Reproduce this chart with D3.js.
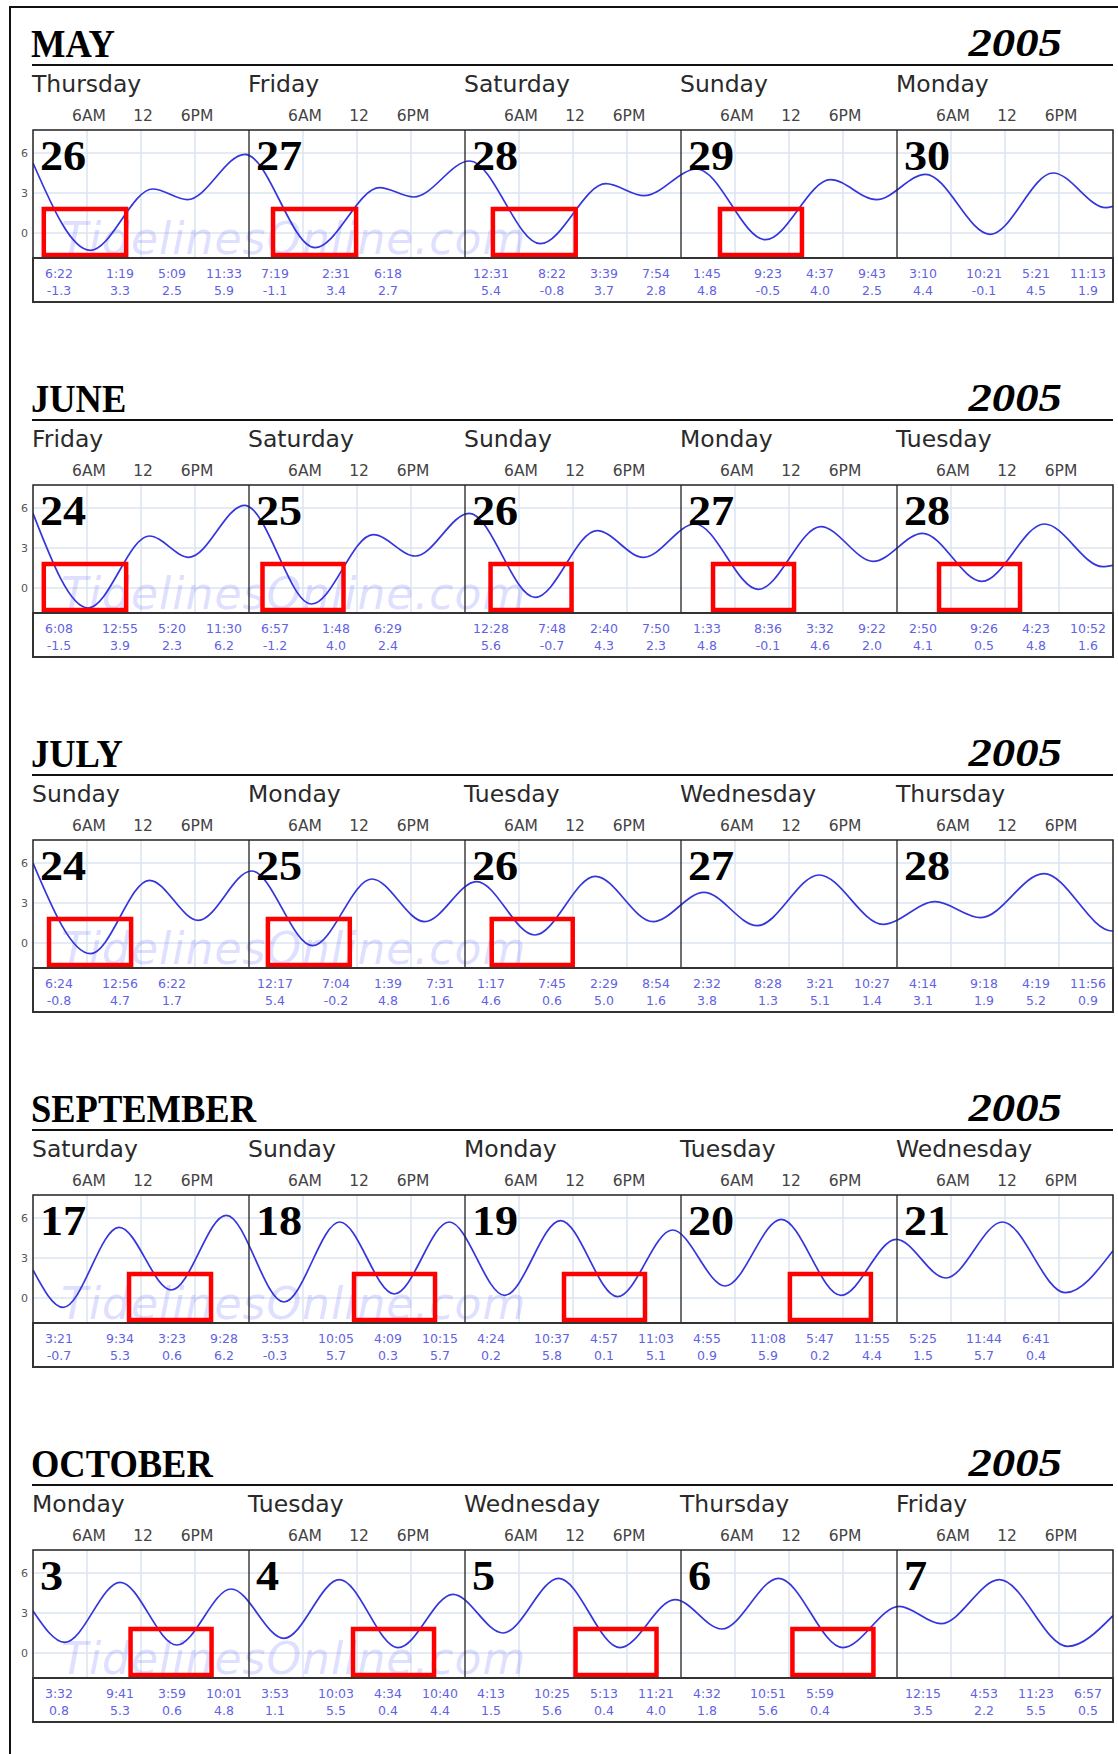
<!DOCTYPE html>
<html>
<head>
<meta charset="utf-8">
<script src="https://cdn.jsdelivr.net/npm/d3@7"></script>
<style>
  html, body { margin: 0; padding: 0; background: #fff; }
  svg { display: block; }
</style>
</head>
<body>
<svg id="chart" width="1118" height="1754"></svg>
<script>
// ---------------- DATA ----------------
const monthNames = ["MAY", "JUNE", "JULY", "SEPTEMBER", "OCTOBER"];
const yearLabels = ["2005", "2005", "2005", "2005", "2005"];
const weekdayNames = [
  ["Thursday", "Friday", "Saturday", "Sunday", "Monday"],
  ["Friday", "Saturday", "Sunday", "Monday", "Tuesday"],
  ["Sunday", "Monday", "Tuesday", "Wednesday", "Thursday"],
  ["Saturday", "Sunday", "Monday", "Tuesday", "Wednesday"],
  ["Monday", "Tuesday", "Wednesday", "Thursday", "Friday"]
];
const dayNumbers = [
  [26, 27, 28, 29, 30],
  [24, 25, 26, 27, 28],
  [24, 25, 26, 27, 28],
  [17, 18, 19, 20, 21],
  [3, 4, 5, 6, 7]
];
// hour-axis tick labels and y-axis ticks
const hourTickHours = [6, 12, 18];
const hourTickLabels = ["6AM", "12", "6PM"];
const heightTicks = [0, 3, 6];

// tide extremes (24h time, height in ft), one list per day
const tidesMay = [
  [["06:22", -1.3], ["13:19", 3.3], ["17:09", 2.5], ["23:33", 5.9]],
  [["07:19", -1.1], ["14:31", 3.4], ["18:18", 2.7]],
  [["00:31", 5.4], ["08:22", -0.8], ["15:39", 3.7], ["19:54", 2.8]],
  [["01:45", 4.8], ["09:23", -0.5], ["16:37", 4.0], ["21:43", 2.5]],
  [["03:10", 4.4], ["10:21", -0.1], ["17:21", 4.5], ["23:13", 1.9]]
];
const tidesJune = [
  [["06:08", -1.5], ["12:55", 3.9], ["17:20", 2.3], ["23:30", 6.2]],
  [["06:57", -1.2], ["13:48", 4.0], ["18:29", 2.4]],
  [["00:28", 5.6], ["07:48", -0.7], ["14:40", 4.3], ["19:50", 2.3]],
  [["01:33", 4.8], ["08:36", -0.1], ["15:32", 4.6], ["21:22", 2.0]],
  [["02:50", 4.1], ["09:26", 0.5], ["16:23", 4.8], ["22:52", 1.6]]
];
const tidesJuly = [
  [["06:24", -0.8], ["12:56", 4.7], ["18:22", 1.7]],
  [["00:17", 5.4], ["07:04", -0.2], ["13:39", 4.8], ["19:31", 1.6]],
  [["01:17", 4.6], ["07:45", 0.6], ["14:29", 5.0], ["20:54", 1.6]],
  [["02:32", 3.8], ["08:28", 1.3], ["15:21", 5.1], ["22:27", 1.4]],
  [["04:14", 3.1], ["09:18", 1.9], ["16:19", 5.2], ["23:56", 0.9]]
];
const tidesSeptember = [
  [["03:21", -0.7], ["09:34", 5.3], ["15:23", 0.6], ["21:28", 6.2]],
  [["03:53", -0.3], ["10:05", 5.7], ["16:09", 0.3], ["22:15", 5.7]],
  [["04:24", 0.2], ["10:37", 5.8], ["16:57", 0.1], ["23:03", 5.1]],
  [["04:55", 0.9], ["11:08", 5.9], ["17:47", 0.2], ["23:55", 4.4]],
  [["05:25", 1.5], ["11:44", 5.7], ["18:41", 0.4]]
];
const tidesOctober = [
  [["03:32", 0.8], ["09:41", 5.3], ["15:59", 0.6], ["22:01", 4.8]],
  [["03:53", 1.1], ["10:03", 5.5], ["16:34", 0.4], ["22:40", 4.4]],
  [["04:13", 1.5], ["10:25", 5.6], ["17:13", 0.4], ["23:21", 4.0]],
  [["04:32", 1.8], ["10:51", 5.6], ["17:59", 0.4]],
  [["00:15", 3.5], ["04:53", 2.2], ["11:23", 5.5], ["18:57", 0.5]]
];
const tidesBySection = [tidesMay, tidesJune, tidesJuly, tidesSeptember, tidesOctober];

// curve height read at the left edge (midnight of first day) and right edge (midnight after last day)
const edgeStartHeights = [5.25, 5.6, 6.0, 2.1, 3.15];
const edgeEndHeights = [2.0, 1.7, 0.95, 3.55, 2.8];

// highlighted low-tide windows: [day index, start hour, end hour]
const boxesMay = [[0, 1.2, 10.35], [1, 2.67, 11.9], [2, 3.1, 12.3], [3, 4.33, 13.44]];
const boxesJune = [[0, 1.2, 10.35], [1, 1.5, 10.5], [2, 2.84, 11.84], [3, 3.56, 12.56], [4, 4.67, 13.67]];
const boxesJuly = [[0, 1.78, 10.9], [1, 2.1, 11.2], [2, 2.97, 11.97]];
const boxesSeptember = [[0, 10.67, 19.78], [1, 11.67, 20.67], [2, 11.0, 20.0], [3, 12.1, 21.1]];
const boxesOctober = [[0, 10.84, 19.84], [1, 11.56, 20.56], [2, 12.28, 21.28], [3, 12.38, 21.38]];
const boxesBySection = [boxesMay, boxesJune, boxesJuly, boxesSeptember, boxesOctober];
const boxHeightRange = [-1.65, 1.8];

const watermarkText = "TidelinesOnline.com";

// ---------------- LAYOUT ----------------
const svg = d3.select("#chart");
const SECTION_STEP = 355;
const PANEL_TOP = 130, PANEL_BOTTOM = 258, TABLE_BOTTOM = 302;
const LEFT = 33, RIGHT = 1113;
const NDAYS = 5;
const slotCenters = [26, 87, 139, 191];

const x = d3.scaleLinear().domain([0, 24 * NDAYS]).range([LEFT, RIGHT]);
const y = d3.scaleLinear().domain([-1.875, 7.725]).range([PANEL_BOTTOM, PANEL_TOP]);

const toHours = t => { const [h, m] = t.split(":").map(Number); return h + m / 60; };
const fmt12 = t => { const [h, m] = t.split(":").map(Number); const hh = (h % 12) || 12; return hh + ":" + String(m).padStart(2, "0"); };

// outer frame
svg.append("rect").attr("x", 10).attr("y", 7).attr("width", 1300).attr("height", 2000)
  .attr("fill", "none").attr("stroke", "#111").attr("stroke-width", 2);

const defs = svg.append("defs");
defs.append("clipPath").attr("id", "plotclip")
  .append("rect").attr("x", LEFT).attr("y", PANEL_TOP).attr("width", RIGHT - LEFT).attr("height", PANEL_BOTTOM - PANEL_TOP);

const serif = "'Liberation Serif', 'Times New Roman', Times, serif";
const sans = "'DejaVu Sans', Verdana, sans-serif";

monthNames.forEach((month, k) => {
  const g = svg.append("g").attr("transform", `translate(0, ${k * SECTION_STEP})`);

  // title & year
  g.append("text").attr("transform", `translate(${LEFT - 2}, 57) scale(0.89, 1)`)
    .attr("font-family", serif).attr("font-weight", "bold").attr("font-size", 41).attr("fill", "#000")
    .text(month);
  g.append("text").attr("transform", `translate(1062, 56) scale(1.17, 1)`)
    .attr("text-anchor", "end")
    .attr("font-family", serif).attr("font-weight", "bold").attr("font-style", "italic").attr("font-size", 40).attr("fill", "#000")
    .text(yearLabels[k]);
  g.append("line").attr("x1", 32).attr("x2", RIGHT).attr("y1", 65).attr("y2", 65)
    .attr("stroke", "#111").attr("stroke-width", 2);

  // weekday names
  g.selectAll(".wd").data(weekdayNames[k]).join("text")
    .attr("x", (d, i) => x(i * 24) - 1).attr("y", 92)
    .attr("font-family", sans).attr("font-size", 23.5).attr("fill", "#2a2a2a")
    .text(d => d);

  // hour tick labels
  const hourTicks = [];
  for (let i = 0; i < NDAYS; i++) hourTickHours.forEach((h, j) => hourTicks.push({ t: i * 24 + h, label: hourTickLabels[j] }));
  g.selectAll(".ht").data(hourTicks).join("text")
    .attr("x", d => x(d.t) + 2).attr("y", 121)
    .attr("text-anchor", "middle")
    .attr("font-family", sans).attr("font-size", 15.5).attr("fill", "#444")
    .text(d => d.label);

  // grid
  g.selectAll(".vg").data(hourTicks).join("line")
    .attr("x1", d => x(d.t)).attr("x2", d => x(d.t))
    .attr("y1", PANEL_TOP).attr("y2", PANEL_BOTTOM)
    .attr("stroke", "#dbe5f0").attr("stroke-width", 1.5);
  g.selectAll(".hg").data(heightTicks).join("line")
    .attr("x1", LEFT).attr("x2", RIGHT)
    .attr("y1", d => y(d)).attr("y2", d => y(d))
    .attr("stroke", "#dbe5f0").attr("stroke-width", 1.5);

  // y tick labels
  g.selectAll(".yt").data(heightTicks).join("text")
    .attr("x", 28).attr("y", d => y(d) + 4)
    .attr("text-anchor", "end")
    .attr("font-family", sans).attr("font-size", 11).attr("fill", "#555")
    .text(d => d);

  // watermark
  g.append("text").attr("x", 61).attr("y", 254)
    .attr("clip-path", "url(#plotclip)")
    .attr("font-family", sans).attr("font-style", "italic").attr("font-size", 44)
    .attr("letter-spacing", 1)
    .attr("fill", "rgb(110,110,255)").attr("fill-opacity", 0.24)
    .text(watermarkText);

  // curve
  const tides = tidesBySection[k];
  const pts = [{ t: 0, h: edgeStartHeights[k] }];
  tides.forEach((day, i) => day.forEach(([tm, h]) => pts.push({ t: i * 24 + toHours(tm), h })));
  pts.push({ t: 24 * NDAYS, h: edgeEndHeights[k] });
  const line = d3.line().x(d => x(d.t)).y(d => y(d.h)).curve(d3.curveMonotoneX);
  g.append("path").datum(pts).attr("d", line)
    .attr("clip-path", "url(#plotclip)")
    .attr("fill", "none").attr("stroke", "#3535dc").attr("stroke-width", 1.7);

  // day numbers
  g.selectAll(".dn").data(dayNumbers[k]).join("text")
    .attr("transform", (d, i) => `translate(${x(i * 24) + 7}, 170) scale(1.1, 1)`)
    .attr("font-family", serif).attr("font-weight", "bold").attr("font-size", 42).attr("fill", "#000")
    .text(d => d);

  // red boxes
  g.selectAll(".rb").data(boxesBySection[k]).join("rect")
    .attr("x", d => x(d[0] * 24 + d[1]))
    .attr("width", d => x(d[0] * 24 + d[2]) - x(d[0] * 24 + d[1]))
    .attr("y", y(boxHeightRange[1]))
    .attr("height", y(boxHeightRange[0]) - y(boxHeightRange[1]))
    .attr("fill", "none").attr("stroke", "#ff0000").attr("stroke-width", 4.5);

  // panel frame + day dividers
  g.append("rect").attr("x", LEFT).attr("y", PANEL_TOP).attr("width", RIGHT - LEFT).attr("height", PANEL_BOTTOM - PANEL_TOP)
    .attr("fill", "none").attr("stroke", "#222").attr("stroke-width", 1.5);
  g.selectAll(".dv").data(d3.range(1, NDAYS)).join("line")
    .attr("x1", d => x(d * 24)).attr("x2", d => x(d * 24))
    .attr("y1", PANEL_TOP).attr("y2", PANEL_BOTTOM)
    .attr("stroke", "#222").attr("stroke-width", 1.3);

  // table
  g.append("rect").attr("x", LEFT).attr("y", PANEL_BOTTOM).attr("width", RIGHT - LEFT).attr("height", TABLE_BOTTOM - PANEL_BOTTOM)
    .attr("fill", "none").attr("stroke", "#333").attr("stroke-width", 2);
  const cells = [];
  tides.forEach((day, i) => day.forEach(([tm, h], j) => cells.push({ i, j, tm, h })));
  g.selectAll(".tt").data(cells).join("text")
    .attr("x", d => x(d.i * 24) + slotCenters[d.j]).attr("y", 278)
    .attr("text-anchor", "middle")
    .attr("font-family", sans).attr("font-size", 12.5).attr("fill", "#6262e2")
    .text(d => fmt12(d.tm));
  g.selectAll(".tv").data(cells).join("text")
    .attr("x", d => x(d.i * 24) + slotCenters[d.j]).attr("y", 295)
    .attr("text-anchor", "middle")
    .attr("font-family", sans).attr("font-size", 12.5).attr("fill", "#6262e2")
    .text(d => d.h.toFixed(1));
});
</script>
</body>
</html>
